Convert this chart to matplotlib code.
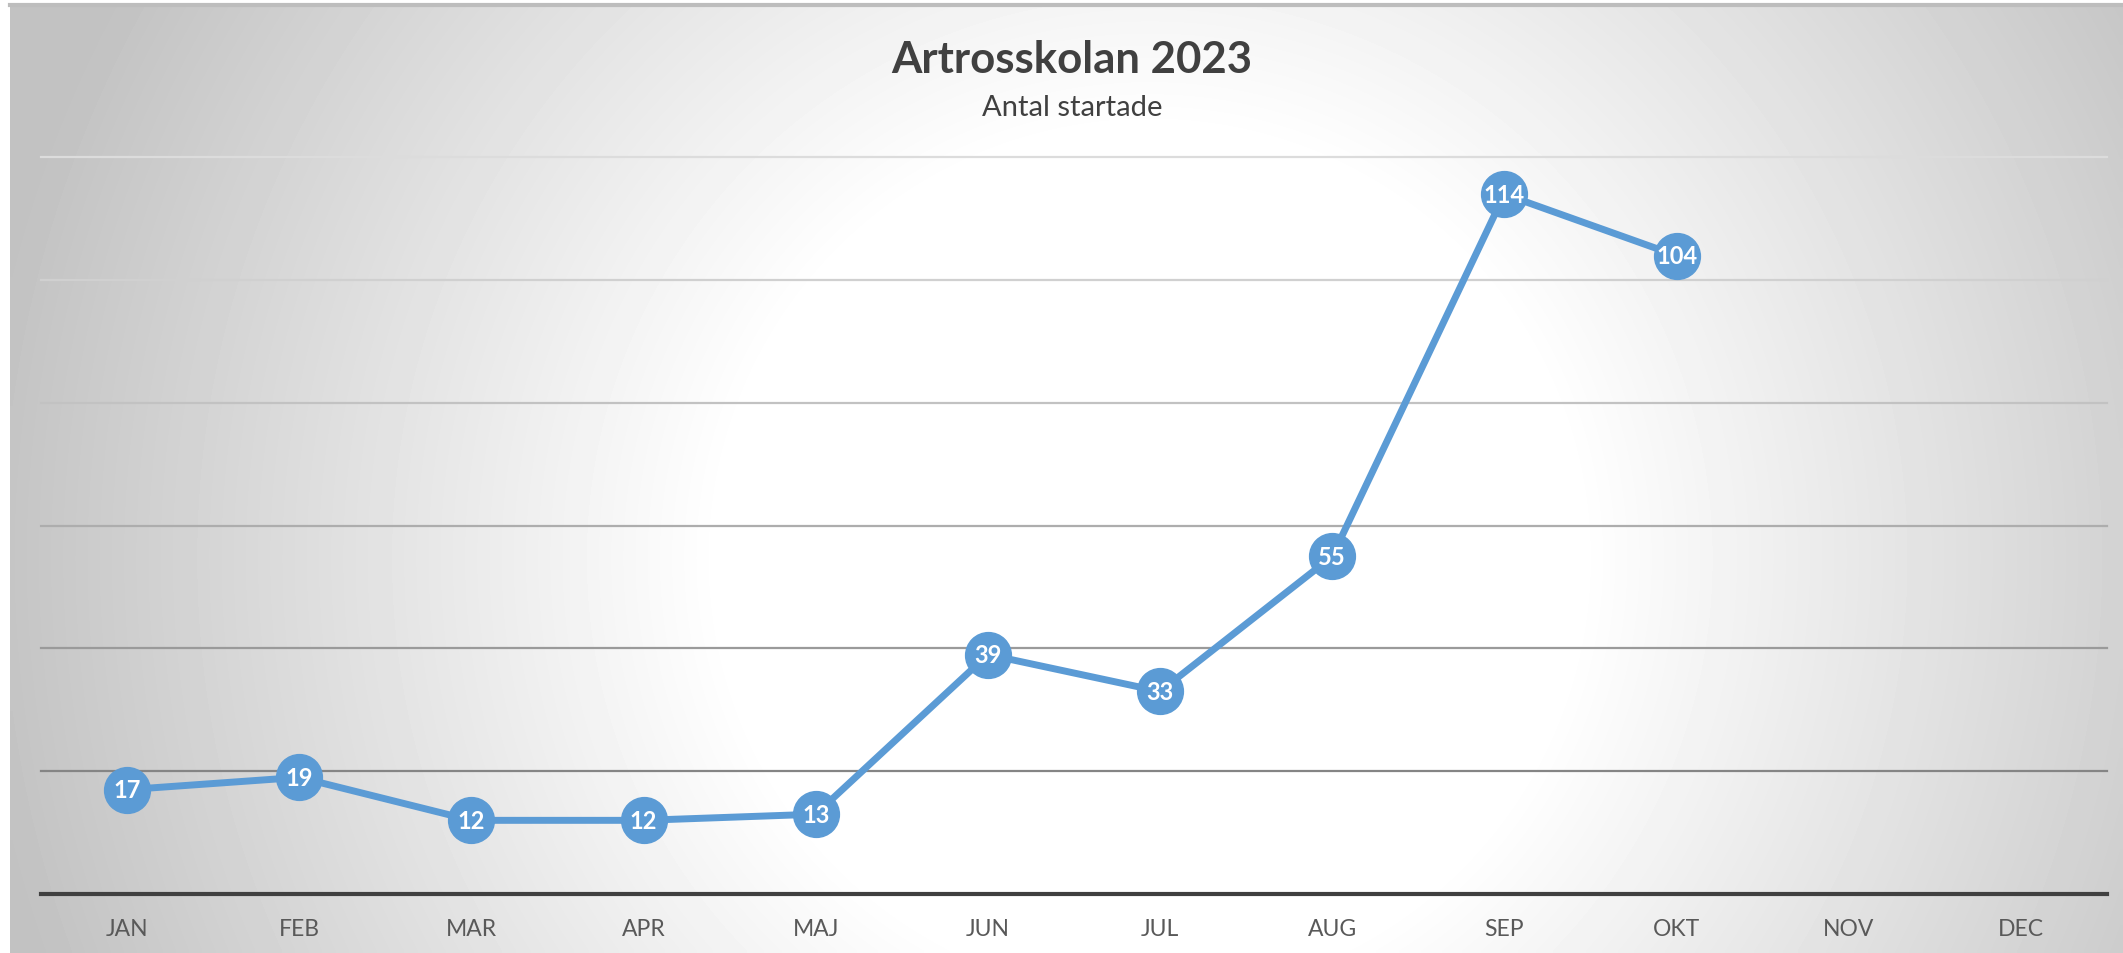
import matplotlib.pyplot as plt
import numpy as np

plt.rcParams['font.family'] = ['Lato', 'DejaVu Sans']

months = ['JAN', 'FEB', 'MAR', 'APR', 'MAJ', 'JUN', 'JUL', 'AUG', 'SEP', 'OKT', 'NOV', 'DEC']
started = [17, 19, 12, 12, 13, 39, 33, 55, 114, 104]
grid_values = [20, 40, 60, 80, 100, 120]
grid_colors = ['#858585', '#9a9a9a', '#adadad', '#c2c2c2', '#d0d0d0', '#dcdcdc']

W, H = 2123, 954
fig = plt.figure(figsize=(W / 100, H / 100), dpi=100)
fig.patch.set_facecolor('white')

# radial gradient background (chart area)
bg = fig.add_axes([10 / W, 0, 1 - 10 / W, 1 - 6 / H])
bg.set_axis_off()
xx, yy = np.meshgrid(np.linspace(10, W, 400), np.linspace(6, H, 200))
d = np.hypot(xx - 1150, yy - 560)
shade = 1 - np.clip((d - 430) / (1180 - 430), 0, 1) * 0.24
bg.imshow(shade, cmap='gray', vmin=0, vmax=1, aspect='auto',
          extent=[0, 1, 0, 1], origin='upper', interpolation='bilinear')
bg.set_xlim(0, 1)
bg.set_ylim(0, 1)
bg.plot([0, 1], [1, 1], color='#bdbdbd', lw=3, transform=bg.transAxes, clip_on=False)

ax = fig.add_axes([41 / W, 1 - 895 / H, (2107 - 41) / W, (895 - 158.4) / H])
ax.set_facecolor('none')
ax.set_xlim(-0.5, len(months) - 0.5)
ax.set_ylim(0, 120)

for v, c in zip(grid_values, grid_colors):
    ax.axhline(v, color=c, lw=1.6, zorder=1, clip_on=False)

x = np.arange(len(started))
ax.plot(x, started, color='#5b9bd5', lw=5, zorder=3, solid_capstyle='round')
ax.plot(x, started, 'o', color='#5b9bd5', markersize=33, zorder=4)
for xi, v in zip(x, started):
    ax.text(xi, v, str(v), ha='center', va='center', color='white',
            fontsize=17, fontweight='bold', zorder=5)

for s in ['top', 'right', 'left']:
    ax.spines[s].set_visible(False)
ax.spines['bottom'].set_color('#404040')
ax.spines['bottom'].set_linewidth(3)
ax.set_yticks([])
ax.set_xticks(np.arange(len(months)))
ax.set_xticklabels(months, fontsize=16.5, color='#595959')
ax.tick_params(axis='x', length=0, pad=17)

fig.text(1072 / W, 1 - 60 / H, 'Artrosskolan 2023', ha='center', va='center',
         fontsize=31.5, fontweight='bold', color='#404040')
fig.text(1072 / W, 1 - 108 / H, 'Antal startade', ha='center', va='center',
         fontsize=21, color='#404040')

fig.savefig('out.png', dpi=100)
